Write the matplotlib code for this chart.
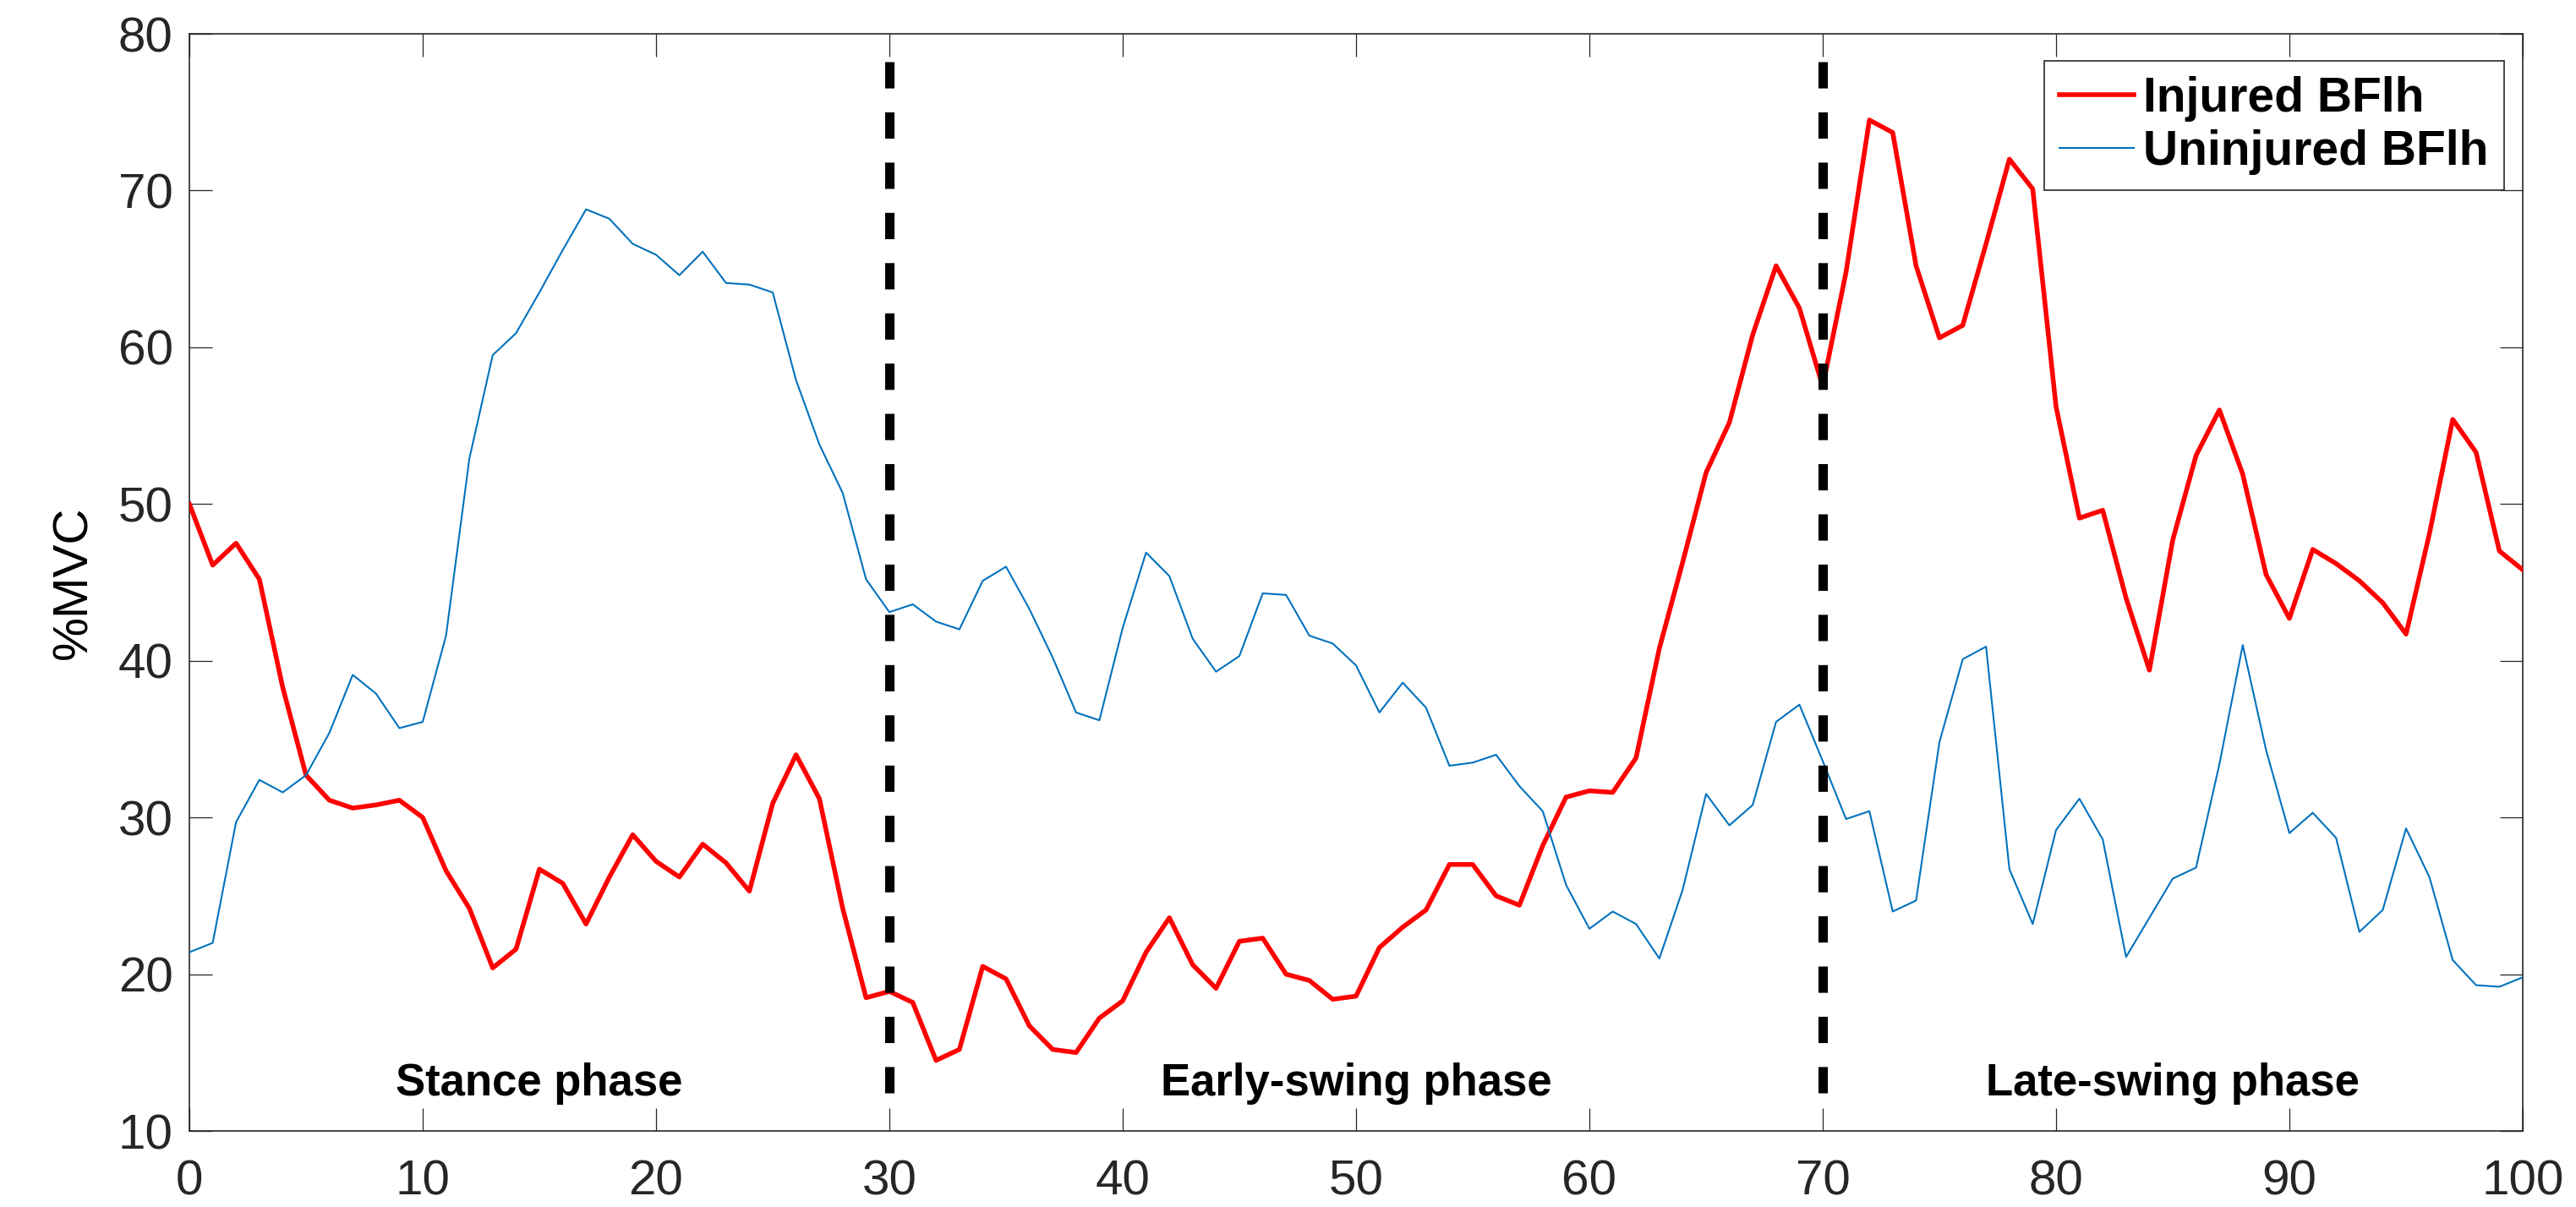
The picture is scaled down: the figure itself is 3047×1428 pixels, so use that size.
import matplotlib
matplotlib.use("Agg")
import matplotlib.pyplot as plt
import numpy as np

# ---- data ----
gait_cycle = list(range(0, 101))
injured_bflh = [
    50.0, 46.1, 47.5, 45.2, 38.3, 32.7, 31.1, 30.6, 30.8, 31.1,
    30.0, 26.6, 24.2, 20.4, 21.6, 26.7, 25.8, 23.2, 26.2, 28.9,
    27.2, 26.2, 28.3, 27.1, 25.3, 30.9, 34.0, 31.2, 24.2, 18.5,
    18.9, 18.2, 14.5, 15.2, 20.5, 19.7, 16.7, 15.2, 15.0, 17.2,
    18.3, 21.4, 23.6, 20.6, 19.1, 22.1, 22.3, 20.0, 19.6, 18.4,
    18.6, 21.7, 23.0, 24.1, 27.0, 27.0, 25.0, 24.4, 28.2, 31.3,
    31.7, 31.6, 33.8, 40.8, 46.3, 52.0, 55.2, 60.8, 65.2, 62.5,
    57.5, 64.8, 74.5, 73.7, 65.2, 60.6, 61.4, 66.6, 72.0, 70.1,
    56.2, 49.1, 49.6, 44.0, 39.4, 47.7, 53.1, 56.0, 51.9, 45.5,
    42.7, 47.1, 46.2, 45.1, 43.7, 41.7, 48.1, 55.4, 53.3, 47.0,
    45.8,
]
uninjured_bflh = [
    21.4, 22.0, 29.7, 32.4, 31.6, 32.7, 35.4, 39.1, 37.9, 35.7,
    36.1, 41.6, 52.9, 59.5, 60.9, 63.5, 66.2, 68.8, 68.2, 66.6,
    65.9, 64.6, 66.1, 64.1, 64.0, 63.5, 57.9, 53.8, 50.7, 45.2,
    43.1, 43.6, 42.5, 42.0, 45.1, 46.0, 43.3, 40.2, 36.7, 36.2,
    42.1, 46.9, 45.4, 41.4, 39.3, 40.3, 44.3, 44.2, 41.6, 41.1,
    39.7, 36.7, 38.6, 37.0, 33.3, 33.5, 34.0, 32.0, 30.4, 25.7,
    22.9, 24.0, 23.2, 21.0, 25.4, 31.5, 29.5, 30.8, 36.1, 37.2,
    33.6, 29.9, 30.4, 24.0, 24.7, 34.8, 40.1, 40.9, 26.7, 23.2,
    29.2, 31.2, 28.6, 21.1, 23.6, 26.1, 26.8, 33.4, 41.0, 34.3,
    29.0, 30.3, 28.7, 22.7, 24.1, 29.3, 26.2, 20.9, 19.3, 19.2,
    19.8,
]
phase_boundaries = [30, 70]
boundary_y = [78.2, 12.0]
phase_labels = ["Stance phase", "Early-swing phase", "Late-swing phase"]
phase_label_x = [15, 50, 85]
phase_label_y = 13.0
x_ticks = list(range(0, 101, 10))
y_ticks = list(range(10, 81, 10))
series_names = ["Injured BFlh", "Uninjured BFlh"]

# ---- figure ----
plt.rcParams['font.family'] = ['Liberation Sans', 'DejaVu Sans']
W, H = 3047, 1428
fig = plt.figure(figsize=(W / 100, H / 100), dpi=100)
ax = fig.add_axes([224 / W, 1 - 1338 / H, 2760 / W, 1298 / H])

axis_col = '#262626'

ax.plot(gait_cycle, injured_bflh, color='#FF0000', lw=4.0, label=series_names[0],
        zorder=3)
ax.plot(gait_cycle, uninjured_bflh, color='#0072BD', lw=1.5, label=series_names[1],
        zorder=3)

for xb in phase_boundaries:
    ax.plot([xb, xb], boundary_y, color='black', lw=8,
            linestyle=(0, (2.8, 2.55)), dash_capstyle='butt', zorder=4)

for lbl, lx in zip(phase_labels, phase_label_x):
    ax.text(lx, phase_label_y, lbl, ha='center', va='center',
            fontsize=38, fontweight='bold', color='black', zorder=5)

ax.set_xlim(0, 100)
ax.set_ylim(10, 80)
ax.set_xticks(x_ticks)
ax.set_yticks(y_ticks)
ax.tick_params(axis='both', direction='in', length=19.5, width=0.9,
               colors=axis_col, labelsize=42, top=True, right=True)
ax.tick_params(axis='x', pad=24)
ax.tick_params(axis='y', pad=14)
for sp in ax.spines.values():
    sp.set_color(axis_col)
    sp.set_linewidth(1.2)

ax.set_ylabel('%MVC', fontsize=42, color='black', labelpad=18)

leg = ax.legend(loc='upper right', bbox_to_anchor=(2962 / W, 1 - 72 / H),
                bbox_transform=fig.transFigure, borderaxespad=0,
                fancybox=False, framealpha=1, edgecolor=axis_col,
                prop={'weight': 'bold', 'size': 41},
                handlelength=1.55, handletextpad=0.2, labelspacing=0.15,
                borderpad=0.32)
leg.get_frame().set_linewidth(1.2)

fig.savefig('out.png', dpi=100, facecolor='white')
